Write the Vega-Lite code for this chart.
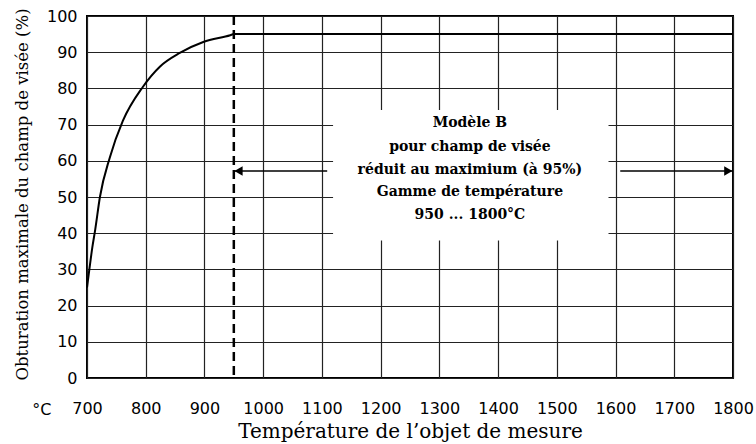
{
  "$schema": "https://vega.github.io/schema/vega-lite/v6.json",
  "autosize": {"type": "none"},
  "width": 646,
  "height": 362,
  "padding": {"left": 87, "top": 16, "right": 23, "bottom": 66},
  "background": "white",
  "config": {
    "view": {"stroke": "black", "strokeWidth": 2},
    "axis": {
      "grid": true, "gridColor": "#222", "gridWidth": 1.2, "gridOpacity": 1,
      "domain": false, "ticks": false, "labelOverlap": false,
      "labelFont": "DejaVu Sans", "labelFontSize": 16, "labelColor": "black",
      "titleFont": "DejaVu Serif", "titleFontWeight": "normal", "titleColor": "black"
    }
  },
  "datasets": {
    "curve": [
      {"t": 700, "v": 25}, {"t": 704, "v": 30}, {"t": 709, "v": 36}, {"t": 714, "v": 41},
      {"t": 722, "v": 50}, {"t": 739, "v": 61}, {"t": 761, "v": 71}, {"t": 795, "v": 80.4},
      {"t": 824, "v": 86}, {"t": 858, "v": 89.8}, {"t": 898, "v": 92.8}, {"t": 944, "v": 94.7},
      {"t": 950, "v": 95}, {"t": 1800, "v": 95}
    ],
    "box": [{"t1": 1119, "t2": 1588, "v1": 38, "v2": 74}],
    "lines": [
      {"t": 1352, "v": 70.4, "txt": "Modèle B"},
      {"t": 1352, "v": 63.9, "txt": "pour champ de visée"},
      {"t": 1352, "v": 57.5, "txt": "réduit au maximium (à 95%)"},
      {"t": 1352, "v": 51.3, "txt": "Gamme de température"},
      {"t": 1352, "v": 45.0, "txt": "950 ... 1800°C"}
    ],
    "arrows": [
      {"t1": 950, "t2": 1109, "v": 57.2},
      {"t1": 1608, "t2": 1800, "v": 57.2}
    ],
    "heads": [
      {"t": 958, "v": 57.2, "shape": "triangle-left"},
      {"t": 1792, "v": 57.2, "shape": "triangle-right"}
    ],
    "unit": [{"t": 623, "v": -8.8, "txt": "°C"}],
    "dash": [{"t": 950}]
  },
  "encoding": {
    "x": {"field": "t", "type": "quantitative",
          "scale": {"domain": [700, 1800], "nice": false, "zero": false},
          "axis": {"values": [700, 800, 900, 1000, 1100, 1200, 1300, 1400, 1500, 1600, 1700, 1800],
                   "format": "d", "labelPadding": 22, "title": "Température de l’objet de mesure",
                   "titleFontSize": 20, "titlePadding": 5, "labelFlush": false}},
    "y": {"field": "v", "type": "quantitative",
          "scale": {"domain": [0, 100], "nice": false},
          "axis": {"values": [0, 10, 20, 30, 40, 50, 60, 70, 80, 90, 100], "tickCount": 11,
                   "format": "d", "labelPadding": 10, "title": "Obturation maximale du champ de visée (%)",
                   "titleFontSize": 16.5, "titleX": -65, "titleY": 178, "titleAngle": -90,
                   "titleAlign": "center", "titleBaseline": "middle"}}
  },
  "layer": [
    {
      "data": {"name": "box"},
      "mark": {"type": "rect", "color": "white"},
      "encoding": {
        "x": {"field": "t1", "type": "quantitative"},
        "x2": {"field": "t2"},
        "y": {"field": "v1", "type": "quantitative"},
        "y2": {"field": "v2"}
      }
    },
    {
      "data": {"name": "dash"},
      "mark": {"type": "rule", "color": "black", "strokeWidth": 2.5, "strokeDash": [9, 5]},
      "encoding": {"y": null}
    },
    {
      "data": {"name": "curve"},
      "mark": {"type": "line", "color": "black", "strokeWidth": 2, "interpolate": "monotone"}
    },
    {
      "data": {"name": "arrows"},
      "mark": {"type": "rule", "color": "black", "strokeWidth": 1.5},
      "encoding": {
        "x": {"field": "t1", "type": "quantitative"},
        "x2": {"field": "t2"}
      }
    },
    {
      "data": {"name": "heads"},
      "mark": {"type": "point", "filled": true, "color": "black", "size": 90, "opacity": 1},
      "encoding": {
        "shape": {"field": "shape", "type": "nominal", "scale": null, "legend": null}
      }
    },
    {
      "data": {"name": "lines"},
      "mark": {"type": "text", "font": "DejaVu Serif", "fontWeight": "bold", "fontSize": 14, "color": "black"},
      "encoding": {"text": {"field": "txt"}}
    },
    {
      "data": {"name": "unit"},
      "mark": {"type": "text", "font": "DejaVu Sans", "fontSize": 16, "color": "black"},
      "encoding": {"text": {"field": "txt"}}
    }
  ]
}
